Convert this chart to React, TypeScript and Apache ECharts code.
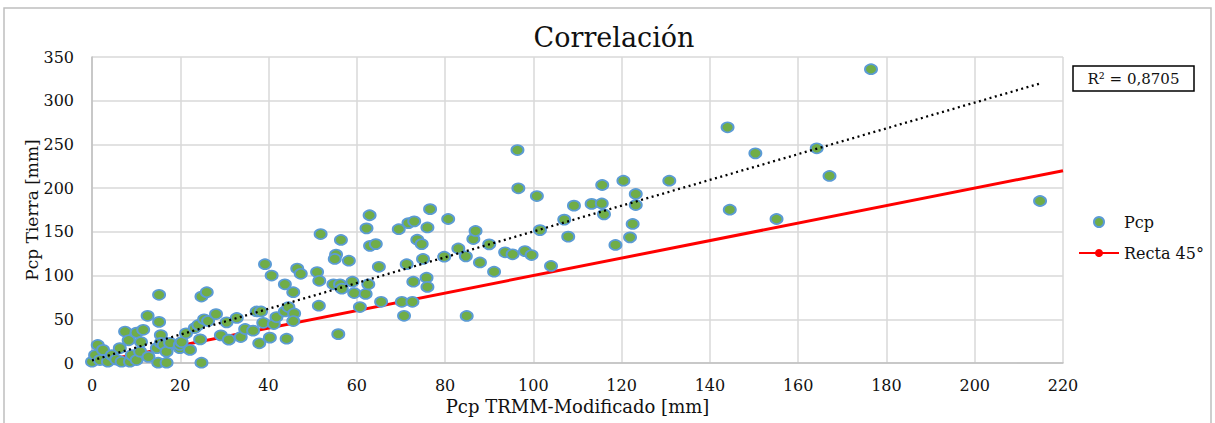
import React, { useEffect, useRef } from "react";
import * as echarts from "echarts";

const xTicks = { min: 0, max: 220, interval: 20 };
const yTicks = { min: 0, max: 350, interval: 50 };

const pcpX: number[] = [
  0, 0.7, 1.3, 1.8, 2.5, 3.6, 4.5, 5.5, 6.3, 6.7, 7.5, 8.3, 8.6, 9, 10.1, 10.1, 10.9, 11.1, 11.6, 12.8,
  12.6, 14.7, 15.2, 15.2, 15.6, 15.6, 15, 16.2, 16.9, 16.9, 17.7, 19.9, 19.9, 20.3, 21.3, 22.2, 23.3, 24.1, 24.5, 24.8,
  24.8, 26, 25.4, 26.3, 28.1, 29.2, 30.5, 31, 32.8, 33.7, 34.7, 36.5, 37.3, 38.3, 37.9, 38.8, 39.2, 40.3, 40.7, 41.2,
  41.8, 43.7, 44.5, 44.1, 43.7, 45.6, 45.8, 45.6, 46.5, 47.3, 51, 51.5, 51.4, 51.8, 55.8, 56.4, 55.3, 55, 58.2, 54.7,
  56.2, 56.6, 59, 59.4, 60.7, 62, 62.6, 62.2, 62.9, 63, 64.3, 65, 65.5, 69.5, 70.2, 70.7, 71.3, 71.7, 73, 72.6,
  72.8, 73.7, 74.7, 75, 76, 76.6, 75.8, 76, 79.8, 80.7, 83, 84.7, 84.9, 86.4, 86.9, 87.9, 90, 91.1, 93.6, 95.3,
  96.4, 96.6, 98.1, 99.6, 100.8, 101.5, 104, 107, 107.9, 109.2, 113.2, 115.5, 115.6, 116, 118.6, 120.4, 121.9, 122.5, 123.2, 123.2,
  130.8, 144, 144.5, 150.3, 155.1, 164.2, 167.1, 176.5, 214.8,
];
const pcpY: number[] = [
  1.5, 9, 20.6, 3.4, 15, 1.5, 9, 4, 17, 1.5, 36, 26, 1.5, 9, 34.7, 3.4, 13, 24, 38, 7,
  54, 17, 78, 47, 32, 23, 0.3, 20.6, 13, 0.3, 23, 17, 20.6, 24, 34, 15, 40, 43.5, 27, 0.3,
  76, 81, 50, 48, 56, 31.6, 46.5, 26.7, 51.5, 29.7, 38.9, 37, 59, 59, 22.5, 46, 113, 29, 100, 44.6,
  52.6, 59, 64, 27.8, 90, 81, 56.7, 48, 108, 102, 104, 94, 65.5, 147.5, 33, 140.7, 124, 119, 117, 90,
  90, 85, 93, 80, 64, 79, 90, 154, 169, 134, 136, 110, 70, 153, 70, 54, 113, 160, 162, 70,
  93, 141, 136, 119, 155, 176, 97.6, 87, 121.6, 164.7, 131, 122, 53.8, 141.8, 151, 115, 135.7, 104.4, 126.6, 124.3,
  243.6, 199.8, 128, 123.5, 191, 152, 111, 164, 144.5, 180, 182, 182.5, 203.6, 170, 135, 208.5, 143.7, 159, 193.3, 180.7,
  208.5, 269.6, 175.3, 239.8, 164.7, 245.6, 213.9, 336, 185.3,
];

const trendX = [0, 215];
const trendY = [3, 320];
const line45X = [0, 220];
const line45Y = [0, 220];

const seriesNames = ["Pcp", "Recta 45°"];
const titleText = "Correlación";
const xName = "Pcp TRMM-Modificado [mm]";
const yName = "Pcp Tierra [mm]";
const r2Text = "R² = 0,8705";

const FONT = "DejaVu Serif";

export default function App() {
  const ref = useRef<HTMLDivElement>(null);
  useEffect(() => {
    if (!ref.current) return;
    const chart = echarts.init(ref.current, undefined, { renderer: "svg" });
    const scatterData = pcpX.map((x, i) => [x, pcpY[i]]);
    chart.setOption({
      animation: false,
      backgroundColor: "#ffffff",
      title: {
        text: titleText,
        left: 609,
        textAlign: "center",
        top: 19,
        textStyle: { fontFamily: FONT, fontSize: 27, fontWeight: "normal", color: "#111" },
      },
      grid: { left: 92, right: 152, top: 57, bottom: 60, containLabel: false, outerBoundsMode: "none" },
      legend: {
        orient: "vertical",
        left: 1073,
        top: 209,
        itemWidth: 40,
        itemHeight: 10,
        itemGap: 15,
        textStyle: { fontFamily: FONT, fontSize: 16, color: "#111" },
        data: seriesNames,
      },
      xAxis: {
        type: "value",
        min: xTicks.min,
        max: xTicks.max,
        interval: xTicks.interval,
        name: xName,
        nameLocation: "middle",
        nameGap: 34,
        nameTextStyle: { fontFamily: FONT, fontSize: 18, color: "#111" },
        axisLine: { show: true, lineStyle: { color: "#BFBFBF", width: 1.5 } },
        axisTick: { show: false },
        axisLabel: { fontFamily: FONT, fontSize: 16, color: "#111", margin: 14 },
        splitLine: { show: true, lineStyle: { color: "#D9D9D9", width: 1.5 } },
      },
      yAxis: {
        type: "value",
        min: yTicks.min,
        max: yTicks.max,
        interval: yTicks.interval,
        name: yName,
        nameLocation: "middle",
        nameGap: 52,
        nameMoveOverlap: false,
        nameTextStyle: { fontFamily: FONT, fontSize: 17, color: "#111" },
        axisLine: { show: true, lineStyle: { color: "#BFBFBF", width: 1.5 } },
        axisTick: { show: false },
        axisLabel: { fontFamily: FONT, fontSize: 16, color: "#111", margin: 18 },
        splitLine: { show: true, lineStyle: { color: "#D9D9D9", width: 1.5 } },
      },
      series: [
        {
          name: seriesNames[1],
          type: "line",
          data: line45X.map((x, i) => [x, line45Y[i]]),
          symbol: "circle",
          symbolSize: 10,
          showSymbol: false,
          lineStyle: { color: "#FF0000", width: 3 },
          itemStyle: { color: "#FF0000" },
          z: 2,
        },
        {
          name: seriesNames[0],
          type: "scatter",
          data: scatterData,
          symbol: "circle",
          symbolSize: [12, 10],
          itemStyle: { color: "#70AD47", borderColor: "#5B9BD5", borderWidth: 1.8, opacity: 1 },
          z: 3,
        },
        {
          name: "trend",
          type: "line",
          data: trendX.map((x, i) => [x, trendY[i]]),
          showSymbol: false,
          symbol: "none",
          lineStyle: { color: "#000", width: 2.3, type: [2, 3.5] },
          z: 4,
        },
      ],
      graphic: [
        {
          type: "rect",
          shape: { x: 4, y: 8, width: 1207, height: 430 },
          style: { fill: "none", stroke: "#BFBFBF", lineWidth: 1.5 },
          z: -1,
          silent: true,
        },
        {
          type: "rect",
          shape: { x: 1073, y: 66, width: 121, height: 25 },
          style: { fill: "#fff", stroke: "#000", lineWidth: 1.5 },
          z: 10,
        },
        {
          type: "text",
          x: 1133.5,
          y: 78.5,
          style: {
            text: r2Text,
            fontFamily: FONT,
            fontSize: 15,
            fill: "#111",
            align: "center",
            verticalAlign: "middle",
          },
          z: 11,
        },
      ],
    });
    return () => chart.dispose();
  }, []);
  return (
    <div
      ref={ref}
      style={{ position: "absolute", left: 0, top: 0, width: 1215, height: 423 }}
    />
  );
}
